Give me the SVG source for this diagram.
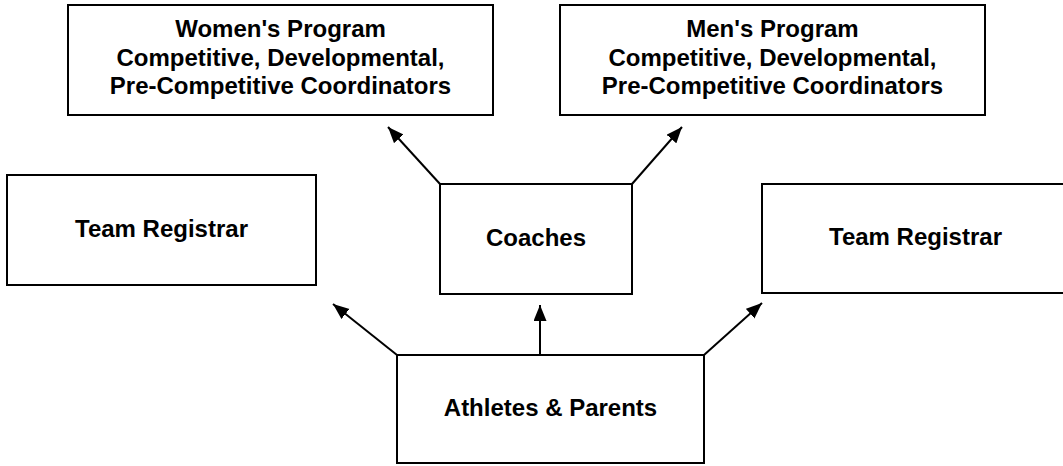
<svg xmlns="http://www.w3.org/2000/svg" width="1063" height="466" viewBox="0 0 1063 466">
<style>
.box{fill:#fff;stroke:#000;stroke-width:2}
.t{font-family:"Liberation Sans",Arial,sans-serif;font-weight:bold;font-size:24px;fill:#000;text-anchor:middle}
.c{stroke:#000;stroke-width:2;fill:none;marker-end:url(#ah)}
</style>
<defs>
<marker id="ah" markerUnits="userSpaceOnUse" markerWidth="17" markerHeight="14" refX="16" refY="6.5" orient="auto">
<path d="M0,0 L16,6.5 L0,13 z" fill="#000"/>
</marker>
</defs>
<rect width="1063" height="466" fill="#fff"/>
<g id="women">
<rect class="box" x="68" y="5" width="425" height="110"/>
<text class="t" x="280.5" y="37">Women's Program</text>
<text class="t" x="280.5" y="66">Competitive, Developmental,</text>
<text class="t" x="280.5" y="94">Pre-Competitive Coordinators</text>
</g>
<g id="men">
<rect class="box" x="560" y="5" width="425" height="110"/>
<text class="t" x="772.5" y="37">Men's Program</text>
<text class="t" x="772.5" y="66">Competitive, Developmental,</text>
<text class="t" x="772.5" y="94">Pre-Competitive Coordinators</text>
</g>
<g id="registrar-left">
<rect class="box" x="7" y="175" width="309" height="110"/>
<text class="t" x="161.5" y="237">Team Registrar</text>
</g>
<g id="coaches">
<rect class="box" x="440" y="184" width="192" height="110"/>
<text class="t" x="536" y="246">Coaches</text>
</g>
<g id="registrar-right">
<rect class="box" x="762" y="184" width="307" height="109"/>
<text class="t" x="915.5" y="245">Team Registrar</text>
</g>
<g id="athletes">
<rect class="box" x="397" y="355" width="307" height="108"/>
<text class="t" x="550.5" y="416">Athletes &amp; Parents</text>
</g>
<g id="connectors">
<line class="c" x1="440" y1="184" x2="388" y2="127"/>
<line class="c" x1="632" y1="184" x2="682" y2="127"/>
<line class="c" x1="397" y1="355" x2="333" y2="304"/>
<line class="c" x1="540" y1="355" x2="540" y2="305"/>
<line class="c" x1="704" y1="355" x2="762" y2="303"/>
</g>
</svg>
